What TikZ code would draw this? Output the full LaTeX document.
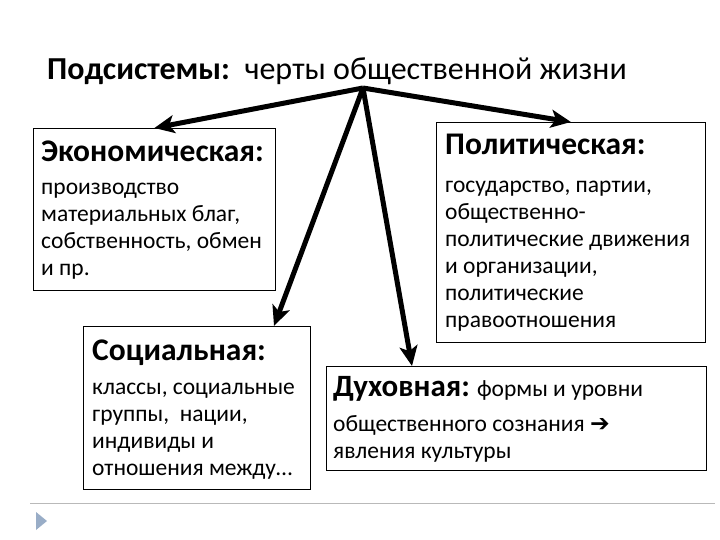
\documentclass[tikz,border=0pt]{standalone}
\usepackage{fontspec}
\setmainfont{Carlito}
\newfontfamily\symfont{DejaVu Sans}
\usetikzlibrary{arrows.meta}
\definecolor{pointerblue}{rgb}{0.60,0.68,0.78}

\tikzset{
  card/.style={draw=black, line width=0.8pt, anchor=north west, inner sep=0pt},
  head/.style={anchor=base west, inner sep=0pt, font=\fontsize{31.5}{32}\selectfont\bfseries},
  body/.style={anchor=base west, inner sep=0pt, align=left, font=\fontsize{23.5}{27}\selectfont},
  link/.style={line width=5pt, -{Stealth[length=20pt,width=18pt,inset=5pt]}}
}

\begin{document}
\begin{tikzpicture}[x=1pt,y=-1pt]
  \useasboundingbox (0,0) rectangle (720,540);
  %%%%% TITLE %%%%%
  \node[anchor=base west, inner sep=0pt, font=\fontsize{32}{36}\selectfont] (title) at (47,80)
    {\textbf{Подсистемы:}\ \ черты общественной жизни};
  \coordinate (hub) at (363,88);

  %%%%% BOXES %%%%%
  % body nodes sit on the baseline of their last line
  \node[card, minimum width=242pt, minimum height=162pt] (econ) at (33,128) {};
  \node[head] (econ-h) at (41,162) {Экономическая:};
  \node[body] (econ-b) at (41,275) {производство\\материальных благ,\\собственность, обмен\\и пр.};

  \node[card, minimum width=269pt, minimum height=220pt] (pol) at (436,122) {};
  \node[head] (pol-h) at (445,155) {Политическая:};
  \node[body] (pol-b) at (445,327) {государство, партии,\\общественно-\\политические движения\\и организации,\\политические\\правоотношения};

  \node[card, minimum width=227pt, minimum height=163pt] (soc) at (83,326) {};
  \node[head] (soc-h) at (92,360) {Социальная:};
  \node[body] (soc-b) at (92,475) {классы, социальные\\группы,\ \ нации,\\индивиды и\\отношения между\dots};

  \node[card, minimum width=380pt, minimum height=104pt] (spir) at (326,366) {};
  \node[body] (spir-b) at (333,458) {{\fontsize{31}{32}\selectfont\bfseries Духовная:} формы и уровни\\[8pt]общественного сознания {\symfont\bfseries ➔}\\явления культуры};

  %%%%% ARROWS %%%%%
  \draw[link] (hub) -- (econ.north);
  \draw[link] (hub) -- (pol.north);
  \draw[link] (hub) -- ([xshift=191pt]soc.north west);
  \draw[link] (hub) -- ([xshift=86pt]spir.north west);

  %%%%% FOOTER %%%%%
  \draw[gray!55, line width=0.8pt] (30,503) -- (715,503);
  \fill[pointerblue] (36,512) -- (47,521) -- (36,530) -- cycle;
\end{tikzpicture}
\end{document}
